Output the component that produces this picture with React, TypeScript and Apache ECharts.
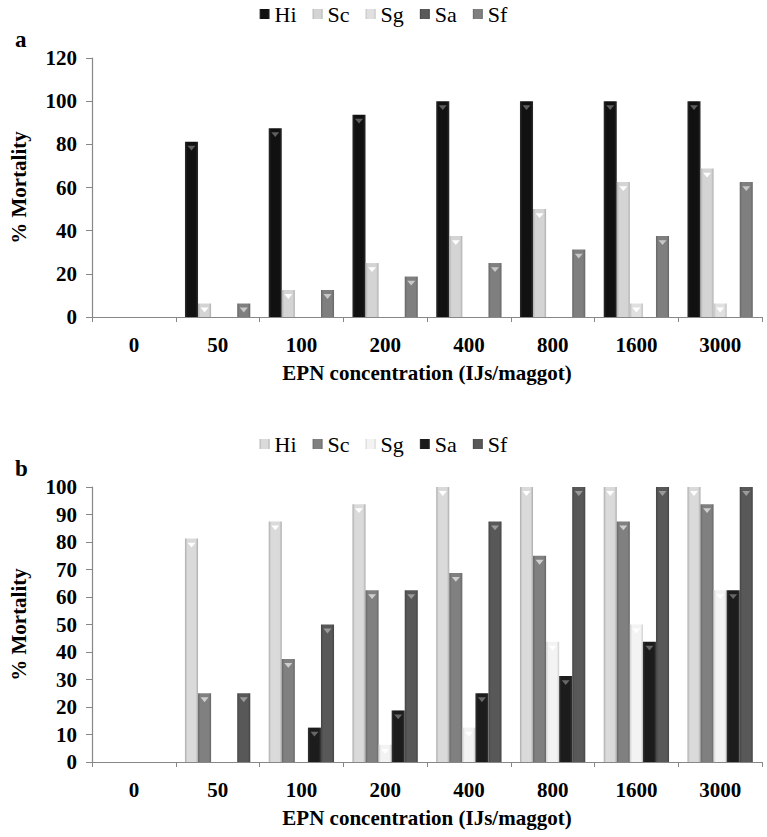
import React, { useEffect, useRef } from "react";
import * as echarts from "echarts";

const categories = ["0", "50", "100", "200", "400", "800", "1600", "3000"];
const seriesNames = ["Hi", "Sc", "Sg", "Sa", "Sf"];

// Panel a
const hiA = [0, 81.25, 87.5, 93.75, 100, 100, 100, 100];
const scA = [0, 6.25, 12.5, 25, 37.5, 50, 62.5, 68.75];
const sgA = [0, 0, 0, 0, 0, 0, 6.25, 6.25];
const saA = [0, 0, 0, 0, 0, 0, 0, 0];
const sfA = [0, 6.25, 12.5, 18.75, 25, 31.25, 37.5, 62.5];

// Panel b
const hiB = [0, 81.25, 87.5, 93.75, 100, 100, 100, 100];
const scB = [0, 25, 37.5, 62.5, 68.75, 75, 87.5, 93.75];
const sgB = [0, 0, 0, 6.25, 12.5, 43.75, 50, 62.5];
const saB = [0, 0, 12.5, 18.75, 25, 31.25, 43.75, 62.5];
const sfB = [0, 25, 50, 62.5, 87.5, 100, 100, 100];

const yTicksA = { min: 0, max: 120, interval: 20 };
const yTicksB = { min: 0, max: 100, interval: 10 };

type Shade = { base: string; edge: string; tip: string };

const shadesA: Shade[] = [
  { base: "#111111", edge: "#2e2e2e", tip: "#5e5e5e" },
  { base: "#d4d4d4", edge: "#b0b0b0", tip: "#ffffff" },
  { base: "#e0e0e0", edge: "#bdbdbd", tip: "#ffffff" },
  { base: "#5a5a5a", edge: "#444444", tip: "#9a9a9a" },
  { base: "#7f7f7f", edge: "#666666", tip: "#c8c8c8" },
];
const shadesB: Shade[] = [
  { base: "#dadada", edge: "#ababab", tip: "#ffffff" },
  { base: "#808080", edge: "#666666", tip: "#cfcfcf" },
  { base: "#f3f3f3", edge: "#cfcfcf", tip: "#ffffff" },
  { base: "#1c1c1c", edge: "#333333", tip: "#676767" },
  { base: "#585858", edge: "#444444", tip: "#9a9a9a" },
];

const FONT = "'Liberation Serif', 'Times New Roman', serif";
const AXIS_COLOR = "#878787";

function buildOption(
  letter: string,
  data: number[][],
  shades: Shade[],
  yt: { min: number; max: number; interval: number },
  grid: { left: number; top: number; width: number; height: number },
  legendTop: number,
  letterTop: number
) {
  const bars = data.map((vals, i) => ({
    name: seriesNames[i],
    type: "bar",
    data: vals,
    barGap: "0%",
    barCategoryGap: "22%",
    itemStyle: {
      color: {
        type: "linear",
        x: 0,
        y: 0,
        x2: 1,
        y2: 0,
        colorStops: [
          { offset: 0, color: shades[i].edge },
          { offset: 0.18, color: shades[i].base },
          { offset: 0.82, color: shades[i].base },
          { offset: 1, color: shades[i].edge },
        ],
      },
    },
  }));
  const tips = data.map((vals, i) => ({
    name: seriesNames[i] + "-tip",
    type: "pictorialBar",
    data: vals.map((v) => (v > 0 ? v : "-")),
    barGap: "0%",
    barCategoryGap: "22%",
    symbol: "triangle",
    symbolRotate: 180,
    symbolSize: [8, 5],
    symbolPosition: "end",
    symbolOffset: [0, 4],
    silent: true,
    z: 3,
    itemStyle: { color: shades[i].tip },
  }));
  return {
    animation: false,
    textStyle: { fontFamily: FONT },
    title: {
      text: letter,
      left: 10,
      top: letterTop,
      textStyle: { fontFamily: FONT, fontSize: 23, fontWeight: "bold", color: "#000" },
    },
    legend: {
      data: seriesNames,
      top: legendTop,
      left: "center",
      itemWidth: 10,
      itemHeight: 10,
      itemGap: 16,
      icon: "rect",
      textStyle: { fontFamily: FONT, fontSize: 22, color: "#000" },
    },
    grid: { ...grid, containLabel: false },
    xAxis: {
      type: "category",
      data: categories,
      name: "EPN concentration (IJs/maggot)",
      nameLocation: "middle",
      nameGap: 45,
      nameTextStyle: { fontFamily: FONT, fontSize: 21, fontWeight: "bold", color: "#000" },
      axisLine: { lineStyle: { color: AXIS_COLOR, width: 1.2 } },
      axisTick: { show: true, length: 5, interval: 0, lineStyle: { color: AXIS_COLOR } },
      axisLabel: {
        margin: 17,
        fontFamily: FONT,
        fontSize: 21,
        fontWeight: "bold",
        color: "#000",
        interval: 0,
      },
    },
    yAxis: {
      type: "value",
      min: yt.min,
      max: yt.max,
      interval: yt.interval,
      name: "% Mortality",
      nameLocation: "middle",
      nameGap: 63,
      nameTextStyle: { fontFamily: FONT, fontSize: 21, fontWeight: "bold", color: "#000" },
      axisLine: { show: true, lineStyle: { color: AXIS_COLOR, width: 1.2 } },
      axisTick: { show: true, length: 6, lineStyle: { color: AXIS_COLOR } },
      splitLine: { show: false },
      axisLabel: {
        margin: 15,
        fontFamily: FONT,
        fontSize: 21,
        fontWeight: "bold",
        color: "#000",
      },
    },
    series: [...bars, ...tips],
  };
}

function Chart({ top, height, option }: { top: number; height: number; option: any }) {
  const ref = useRef<HTMLDivElement>(null);
  useEffect(() => {
    if (!ref.current) return;
    const chart = echarts.init(ref.current, undefined, { renderer: "svg" });
    chart.setOption(option);
    return () => chart.dispose();
  }, [option]);
  return (
    <div
      ref={ref}
      style={{ position: "absolute", left: 0, top, width: 767, height, background: "#fff" }}
    />
  );
}

const optionA = buildOption(
  "a",
  [hiA, scA, sgA, saA, sfA],
  shadesA,
  yTicksA,
  { left: 83, top: 58, width: 679, height: 259 },
  -2,
  23
);
const optionB = buildOption(
  "b",
  [hiB, scB, sgB, saB, sfB],
  shadesB,
  yTicksB,
  { left: 84, top: 67, width: 678, height: 275 },
  8,
  32
);

export default function App() {
  return (
    <div style={{ position: "fixed", left: 0, top: 0, width: 767, height: 837, background: "#fff" }}>
      <Chart top={0} height={420} option={optionA} />
      <Chart top={420} height={417} option={optionB} />
    </div>
  );
}
